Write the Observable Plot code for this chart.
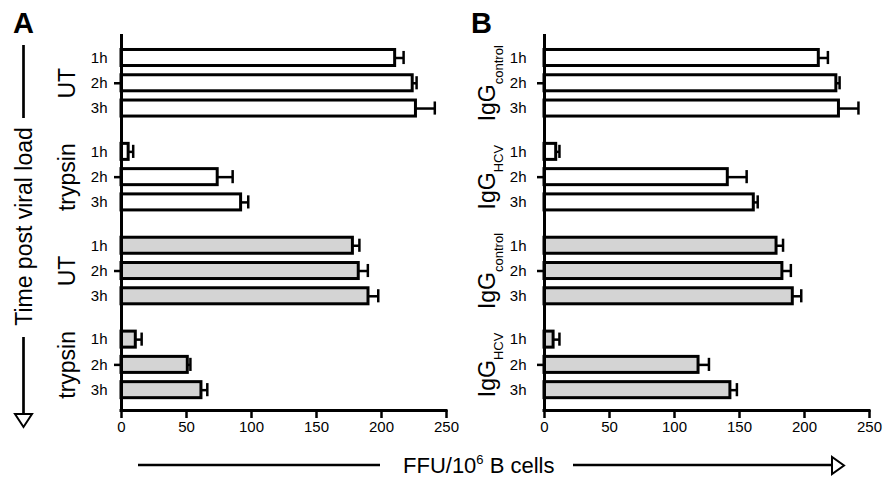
<!DOCTYPE html>
<html><head><meta charset="utf-8">
<script src="https://cdn.jsdelivr.net/npm/d3@7"></script>
<script src="https://cdn.jsdelivr.net/npm/@observablehq/plot@0.6"></script>
<style>
html,body{margin:0;padding:0;background:#fff;overflow:hidden}
#wrap{position:relative;width:891px;height:477px;font-family:"Liberation Sans",Arial,Helvetica,sans-serif}
#wrap > svg{position:absolute;top:0}
</style></head><body><div id="wrap"></div>
<script>
// ---- data ----
const hours = ["1h", "2h", "3h"];
const groupsA = ["UT", "trypsin", "UT", "trypsin"];
const groupsB = ["IgG|control", "IgG|HCV", "IgG|control", "IgG|HCV"];
const series = ["open", "open", "filled", "filled"];
const valuesA = [[210.5, 224, 226.5], [5.5, 74, 92], [178, 182.5, 190], [11, 51, 61.5]];
const errorsA = [[6.5, 3, 14.5], [3.5, 11.5, 5.5], [5, 7, 7.5], [4.5, 2, 4.5]];
const valuesB = [[211, 224.5, 226.5], [9, 141, 161], [178.5, 183, 191], [7, 118.5, 143]];
const errorsB = [[7, 2.5, 15], [2.5, 14.5, 3], [5, 6.5, 6.5], [4.5, 8, 5]];
const xTicks = [0, 50, 100, 150, 200, 250];
const xDomain = [0, 250];
const xLabel = "FFU/10|6| B cells";
const yLabel = "Time post viral load";

// ---- layout helpers ----
const GROUP_GAP = 0.715;
const yDomain = [-0.93, 13.95];
const FONT = "Liberation Sans, Arial, Helvetica, sans-serif";

function rowsFor(groups, values, errors) {
  const rows = [];
  groups.forEach((g, gi) => {
    hours.forEach((h, hi) => {
      const pos = gi * (3 + GROUP_GAP) + hi;
      rows.push({group: g, series: series[gi], hour: h, pos,
        top: pos - 0.317, bottom: pos + 0.317,
        value: values[gi][hi], hi: values[gi][hi] + errors[gi][hi],
        capTop: pos - 0.26, capBottom: pos + 0.26});
    });
  });
  return rows;
}
function groupRows(groups) {
  return groups.map((g, gi) => ({name: g, center: gi * (3 + GROUP_GAP) + 1}));
}

function panel(groups, values, errors, hourPad, groupDx) {
  const rows = rowsFor(groups, values, errors);
  const gr = groupRows(groups);
  const mids = gr.map(d => d.center);
  const chart = Plot.plot({
    width: 468, height: 477,
    marginLeft: 121, marginRight: 22, marginTop: 34, marginBottom: 67,
    style: {background: "none", fontFamily: FONT, fontSize: "15px", color: "black", overflow: "visible"},
    x: {domain: xDomain, axis: null},
    y: {domain: yDomain, reverse: true, axis: null},
    color: {domain: ["open", "filled"], range: ["white", "#d4d4d4"]},
    marks: [
      Plot.ruleY(rows, {y: "pos", x1: "value", x2: "hi", stroke: "black", strokeWidth: 2.5}),
      Plot.ruleX(rows, {x: "hi", y1: "capTop", y2: "capBottom", stroke: "black", strokeWidth: 2.5}),
      Plot.rect(rows, {x1: 0, x2: "value", y1: "top", y2: "bottom", fill: "series", stroke: "black", strokeWidth: 3}),
      Plot.ruleX([xDomain[0]], {stroke: "black", strokeWidth: 3}),
      Plot.ruleY([yDomain[1]], {stroke: "black", strokeWidth: 3, strokeLinecap: "square"}),
      Plot.axisX({ticks: xTicks, anchor: "bottom", tickSize: 8, tickPadding: 3, strokeWidth: 2.5, fontSize: 15, label: null}),
      Plot.axisY({ticks: mids, anchor: "left", tickSize: 7, strokeWidth: 2.5, tickFormat: () => "", label: null}),
      Plot.text(rows, {x: 0, y: "pos", text: "hour", textAnchor: "end", dx: -hourPad, fontSize: 15}),
      Plot.text(gr, {x: 0, y: "center", text: "name", rotate: -90, dx: groupDx, fontSize: 23})
    ]
  });
  // subscripts for IgG labels
  d3.select(chart).selectAll("text").each(function() {
    const t = this.textContent;
    if (t.includes("|") && this.childElementCount === 0) {
      const [main, sub] = t.split("|");
      this.textContent = "";
      d3.select(this).append("tspan").text(main);
      d3.select(this).append("tspan").attr("font-size", 13).attr("dy", 8).text(sub);
    }
  });
  return chart;
}

const wrap = document.getElementById("wrap");

// overlay decorations (panel letters, axis labels with arrows)
const ov = d3.select(wrap).append("svg").attr("width", 891).attr("height", 477)
  .style("font-family", FONT);
ov.append("text").attr("x", 13).attr("y", 33).attr("font-size", 29).attr("font-weight", "bold").text("A");
ov.append("text").attr("x", 471).attr("y", 33).attr("font-size", 29).attr("font-weight", "bold").text("B");
// vertical label
ov.append("line").attr("x1", 23.5).attr("x2", 23.5).attr("y1", 45).attr("y2", 118).attr("stroke", "black").attr("stroke-width", 2.7);
ov.append("text").attr("transform", "translate(32,226.5) rotate(-90)").attr("text-anchor", "middle")
  .attr("font-size", 23).text(yLabel);
ov.append("line").attr("x1", 23.5).attr("x2", 23.5).attr("y1", 337).attr("y2", 414).attr("stroke", "black").attr("stroke-width", 2.7);
ov.append("path").attr("d", "M15,414L32,414L23.5,427Z").attr("fill", "white").attr("stroke", "black").attr("stroke-width", 2);
// horizontal label
ov.append("line").attr("x1", 138).attr("x2", 380).attr("y1", 465).attr("y2", 465).attr("stroke", "black").attr("stroke-width", 2.7);
const parts = xLabel.split("|");
const xt = ov.append("text").attr("x", 403).attr("y", 473).attr("font-size", 22);
xt.append("tspan").text(parts[0]);
xt.append("tspan").attr("font-size", 13).attr("dy", -9).text(parts[1]);
xt.append("tspan").attr("dy", 9).text(parts[2]);
ov.append("line").attr("x1", 573).attr("x2", 832).attr("y1", 465).attr("y2", 465).attr("stroke", "black").attr("stroke-width", 2.7);
ov.append("path").attr("d", "M832,457L832,474L844,465.5Z").attr("fill", "white").attr("stroke", "black").attr("stroke-width", 2);

const a = panel(groupsA, valuesA, errorsA, 14, -54);
a.style.left = "0px";
wrap.appendChild(a);
const b = panel(groupsB, valuesB, errorsB, 18, -56.5);
b.style.left = "423px";
wrap.appendChild(b);
</script></body></html>
